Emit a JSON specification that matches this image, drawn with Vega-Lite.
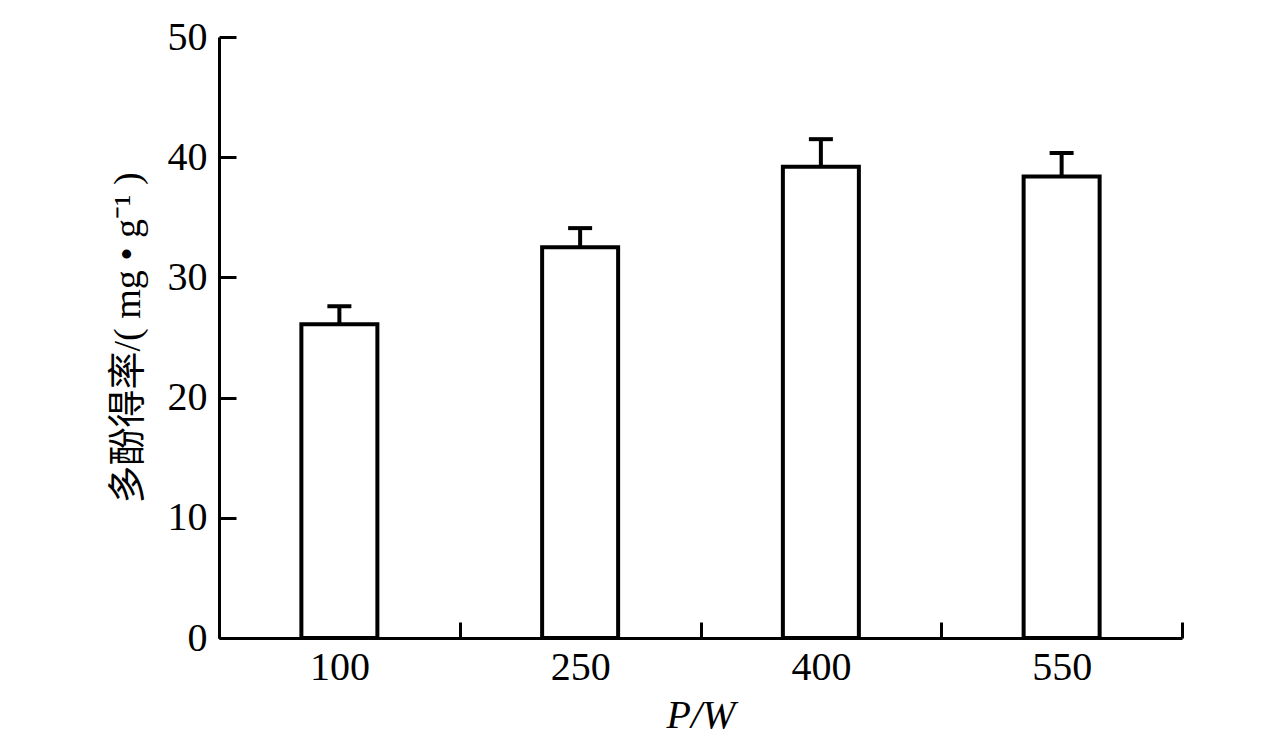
{
  "$schema": "https://vega.github.io/schema/vega-lite/v6.json",
  "autosize": "none",
  "width": 963,
  "height": 601,
  "padding": {"left": 219, "top": 37, "right": 94, "bottom": 101},
  "background": "white",
  "data": {
    "values": [
      {"power": "100", "yield": 26.1, "upper": 27.6},
      {"power": "250", "yield": 32.5, "upper": 34.1},
      {"power": "400", "yield": 39.2, "upper": 41.5},
      {"power": "550", "yield": 38.4, "upper": 40.35}
    ]
  },
  "encoding": {
    "x": {
      "field": "power",
      "type": "nominal",
      "sort": null,
      "scale": {"paddingInner": 0, "paddingOuter": 0},
      "axis": {
        "title": "P/W",
        "titleFont": "Liberation Serif",
        "titleFontStyle": "italic",
        "titleFontWeight": "normal",
        "titleFontSize": 40,
        "titleColor": "black",
        "titlePadding": 8,
        "labelAngle": 0,
        "labelFont": "Liberation Serif",
        "labelFontSize": 40,
        "labelColor": "black",
        "labelPadding": 25,
        "tickBand": "extent",
        "tickSize": -16,
        "tickWidth": 3,
        "tickColor": "black",
        "domainColor": "black",
        "domainWidth": 3
      }
    }
  },
  "layer": [
    {
      "mark": {"type": "bar", "size": 76, "fill": "white", "stroke": "black", "strokeWidth": 4},
      "encoding": {
        "y": {
          "field": "yield",
          "type": "quantitative",
          "scale": {"domain": [0, 50]},
          "axis": {
            "title": "多酚得率/( mg • g⁻¹ )",
            "titleFont": "Liberation Serif, Noto Sans CJK SC",
            "titleFontWeight": "normal",
            "titleFontSize": 38,
            "titleColor": "black",
            "titlePadding": 20,
            "values": [0, 10, 20, 30, 40, 50],
            "grid": false,
            "labelFont": "Liberation Serif",
            "labelFontSize": 40,
            "labelColor": "black",
            "labelPadding": 29,
            "tickSize": -17,
            "tickWidth": 3,
            "tickColor": "black",
            "domainColor": "black",
            "domainWidth": 3
          }
        }
      }
    },
    {
      "mark": {"type": "rule", "stroke": "black", "strokeWidth": 4},
      "encoding": {
        "y": {"field": "yield", "type": "quantitative"},
        "y2": {"field": "upper"}
      }
    },
    {
      "mark": {"type": "tick", "orient": "horizontal", "size": 24, "thickness": 4, "color": "black", "opacity": 1},
      "encoding": {
        "y": {"field": "upper", "type": "quantitative"}
      }
    }
  ],
  "config": {"view": {"stroke": null}}
}
